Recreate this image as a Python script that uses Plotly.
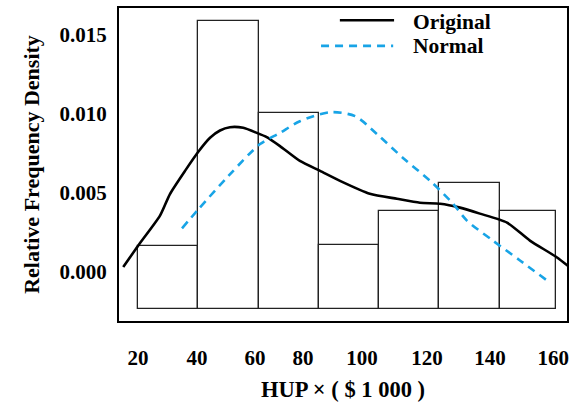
import plotly.graph_objects as go

# ---- data ----
BIN_EDGES = [20, 40, 60, 80, 100, 120, 140, 158.5]
BAR_DENSITY = [0.00162, 0.01589, 0.01004, 0.00166, 0.00385, 0.00563, 0.00385]
BAR_BASE = -0.0024

ORIG_X = [15.1, 20.1, 27.3, 30.6, 35.6, 40.2, 43.9, 47.2, 50.5, 54.9, 59.4, 62.7,
          67.1, 73.7, 80.4, 87.0, 96.9, 105.9, 113.5, 120.2, 126.8, 133.4, 142.4,
          150.0, 159.0, 163.6]
ORIG_Y = [0.00027, 0.00164, 0.00353, 0.00490, 0.00637, 0.00763, 0.00847, 0.00893,
          0.00914, 0.00910, 0.00878, 0.00851, 0.00794, 0.00700, 0.00637, 0.00574,
          0.00492, 0.00460, 0.00435, 0.00429, 0.00404, 0.00366, 0.00309, 0.00195,
          0.00088, 0.00019]

NORM_X = [34.6, 40.2, 50.0, 60.5, 67.1, 73.7, 83.7, 92.0, 99.3, 107.9, 116.9, 124.5,
          129.1, 137.7, 146.7, 155.6]
NORM_Y = [0.00273, 0.00397, 0.00605, 0.00807, 0.00878, 0.00952, 0.01009, 0.00984,
          0.00870, 0.00719, 0.00574, 0.00429, 0.00322, 0.00195, 0.00069, -0.00057]

X_TICK_LABELS = ["20", "40", "60", "80", "100", "120", "140", "160"]
X_TICK_POS = [20, 39.6, 58.8, 74.7, 94.3, 115.9, 136.8, 157.7]
Y_TICKS = [0.0, 0.005, 0.010, 0.015]

SERIES_NAMES = ["Original", "Normal"]

FONT = "Liberation Serif"
BLUE = "#18a4e6"

centers = [(a + b) / 2 for a, b in zip(BIN_EDGES[:-1], BIN_EDGES[1:])]
widths = [b - a for a, b in zip(BIN_EDGES[:-1], BIN_EDGES[1:])]

fig = go.Figure()
fig.add_trace(go.Bar(
    x=centers, y=[v - BAR_BASE for v in BAR_DENSITY], base=BAR_BASE, width=widths,
    marker=dict(color="white", line=dict(color="#222222", width=1.3)),
    showlegend=False, hoverinfo="skip",
))
fig.add_trace(go.Scatter(
    x=ORIG_X, y=ORIG_Y, mode="lines", name=SERIES_NAMES[0],
    line=dict(color="black", width=2.6, shape="spline", smoothing=0.6),
    showlegend=False,
))
fig.add_trace(go.Scatter(
    x=NORM_X, y=NORM_Y, mode="lines", name=SERIES_NAMES[1],
    line=dict(color=BLUE, width=2.6, dash="8px,6px", shape="spline", smoothing=0.8),
    showlegend=False,
))

# manual legend (sample line lengths as in the reference)
fig.add_shape(type="line", xref="paper", yref="paper", x0=0.493, x1=0.614, y0=0.961, y1=0.961,
              line=dict(color="black", width=2.6))
fig.add_shape(type="line", xref="paper", yref="paper", x0=0.451, x1=0.612, y0=0.879, y1=0.879,
              line=dict(color=BLUE, width=2.6, dash="8px,6px"))
for name, yy in zip(SERIES_NAMES, [0.955, 0.879]):
    fig.add_annotation(text="<b>%s</b>" % name, xref="paper", yref="paper", x=0.652, y=yy,
                       xanchor="left", yanchor="middle", showarrow=False,
                       font=dict(family=FONT, size=21.5, color="black"))

fig.update_layout(
    width=579, height=408,
    margin=dict(l=119, r=12, t=6, b=87),
    paper_bgcolor="white", plot_bgcolor="white",
    font=dict(family=FONT, size=21, color="black"),
    bargap=0,
)
fig.update_xaxes(
    range=[13.7, 162.3], tickvals=X_TICK_POS,
    ticktext=["<b>%s</b>" % t for t in X_TICK_LABELS],
    showgrid=False, zeroline=False, showline=True, mirror=True,
    linecolor="black", linewidth=2, ticks="", ticklabelstandoff=17,
    title=dict(text="<b>HUP × ( $ 1 000 )</b>", standoff=12, font=dict(size=22.5)),
)
fig.update_yaxes(
    range=[-0.00315, 0.0167], tickvals=Y_TICKS,
    ticktext=["<b>%.3f</b>" % v for v in Y_TICKS],
    showgrid=False, zeroline=False, showline=True, mirror=True,
    linecolor="black", linewidth=2, ticks="", ticklabelstandoff=6,
    title=dict(text="<b>Relative Frequency Density</b>", standoff=14, font=dict(size=22)),
)

fig.write_html("out.html")
